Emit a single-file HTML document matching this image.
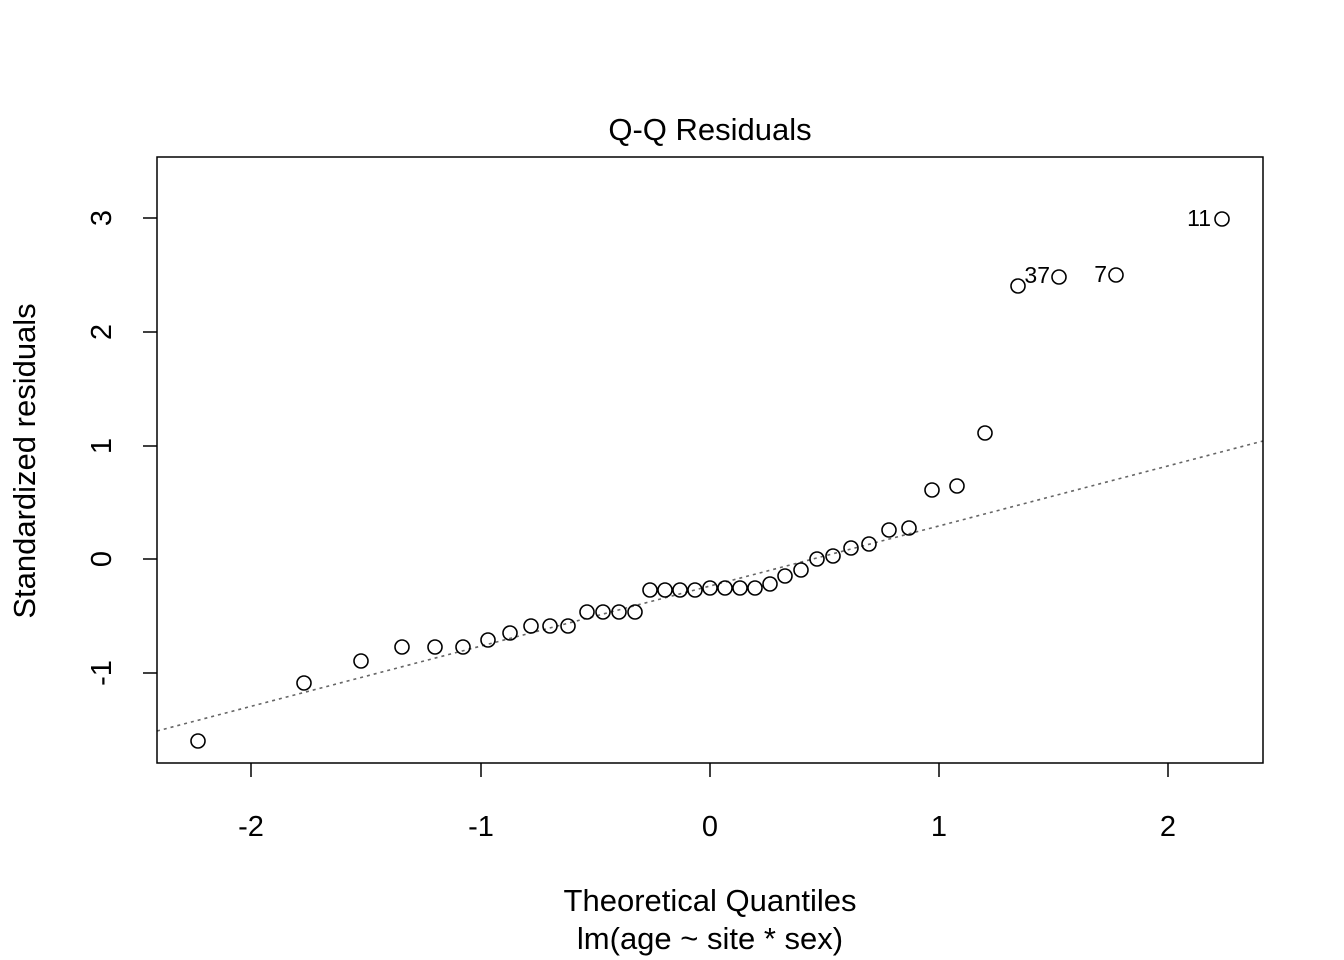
<!DOCTYPE html>
<html><head><meta charset="utf-8"><style>html,body{margin:0;padding:0;background:#fff}svg{display:block}</style></head>
<body>
<svg width="1344" height="960" viewBox="0 0 1344 960" xmlns="http://www.w3.org/2000/svg" font-family="Liberation Sans, Arial, sans-serif">
<rect width="1344" height="960" fill="#fff"/>
<text x="710" y="140" font-size="31" text-anchor="middle">Q-Q Residuals</text>
<line x1="157" y1="731" x2="1263" y2="441" stroke="#666" stroke-width="1.6" stroke-dasharray="3,4"/>
<rect x="157" y="157" width="1106" height="606" fill="none" stroke="#000" stroke-width="1.5"/>
<g stroke="#000" stroke-width="1.5">
<line x1="251" y1="763" x2="251" y2="777"/><line x1="481" y1="763" x2="481" y2="777"/><line x1="710" y1="763" x2="710" y2="777"/><line x1="939" y1="763" x2="939" y2="777"/><line x1="1168" y1="763" x2="1168" y2="777"/>
<line x1="157" y1="673" x2="143" y2="673"/><line x1="157" y1="559" x2="143" y2="559"/><line x1="157" y1="446" x2="143" y2="446"/><line x1="157" y1="332" x2="143" y2="332"/><line x1="157" y1="218" x2="143" y2="218"/>
</g>
<g font-size="29" text-anchor="middle">
<text x="251" y="836">-2</text><text x="481" y="836">-1</text><text x="710" y="836">0</text><text x="939" y="836">1</text><text x="1168" y="836">2</text>
<text transform="translate(111,673) rotate(-90)">-1</text>
<text transform="translate(111,559) rotate(-90)">0</text>
<text transform="translate(111,446) rotate(-90)">1</text>
<text transform="translate(111,332) rotate(-90)">2</text>
<text transform="translate(111,218) rotate(-90)">3</text>
<text x="710" y="911" font-size="31">Theoretical Quantiles</text>
<text x="710" y="949" font-size="31">lm(age ~ site * sex)</text>
<text transform="translate(35,461) rotate(-90)" font-size="31">Standardized residuals</text>
</g>
<g fill="none" stroke="#000" stroke-width="1.6">
<circle cx="198" cy="741" r="7"/><circle cx="304" cy="683" r="7"/><circle cx="361" cy="661" r="7"/><circle cx="402" cy="647" r="7"/><circle cx="435" cy="647" r="7"/><circle cx="463" cy="647" r="7"/><circle cx="488" cy="640" r="7"/><circle cx="510" cy="633" r="7"/><circle cx="531" cy="626" r="7"/><circle cx="550" cy="626" r="7"/><circle cx="568" cy="626" r="7"/><circle cx="587" cy="612" r="7"/><circle cx="603" cy="612" r="7"/><circle cx="619" cy="612" r="7"/><circle cx="635" cy="612" r="7"/><circle cx="650" cy="590" r="7"/><circle cx="665" cy="590" r="7"/><circle cx="680" cy="590" r="7"/><circle cx="695" cy="590" r="7"/><circle cx="710" cy="588" r="7"/><circle cx="725" cy="588" r="7"/><circle cx="740" cy="588" r="7"/><circle cx="755" cy="588" r="7"/><circle cx="770" cy="584" r="7"/><circle cx="785" cy="576" r="7"/><circle cx="801" cy="570" r="7"/><circle cx="817" cy="559" r="7"/><circle cx="833" cy="556" r="7"/><circle cx="851" cy="548" r="7"/><circle cx="869" cy="544" r="7"/><circle cx="889" cy="530" r="7"/><circle cx="909" cy="528" r="7"/><circle cx="932" cy="490" r="7"/><circle cx="957" cy="486" r="7"/><circle cx="985" cy="433" r="7"/><circle cx="1018" cy="286" r="7"/><circle cx="1059" cy="277" r="7"/><circle cx="1116" cy="275" r="7"/><circle cx="1222" cy="219" r="7"/>
</g>
<g font-size="23" text-anchor="end">
<text x="1211" y="226">11</text>
<text x="1050" y="283">37</text>
<text x="1107" y="282">7</text>
</g>
</svg>
</body></html>
